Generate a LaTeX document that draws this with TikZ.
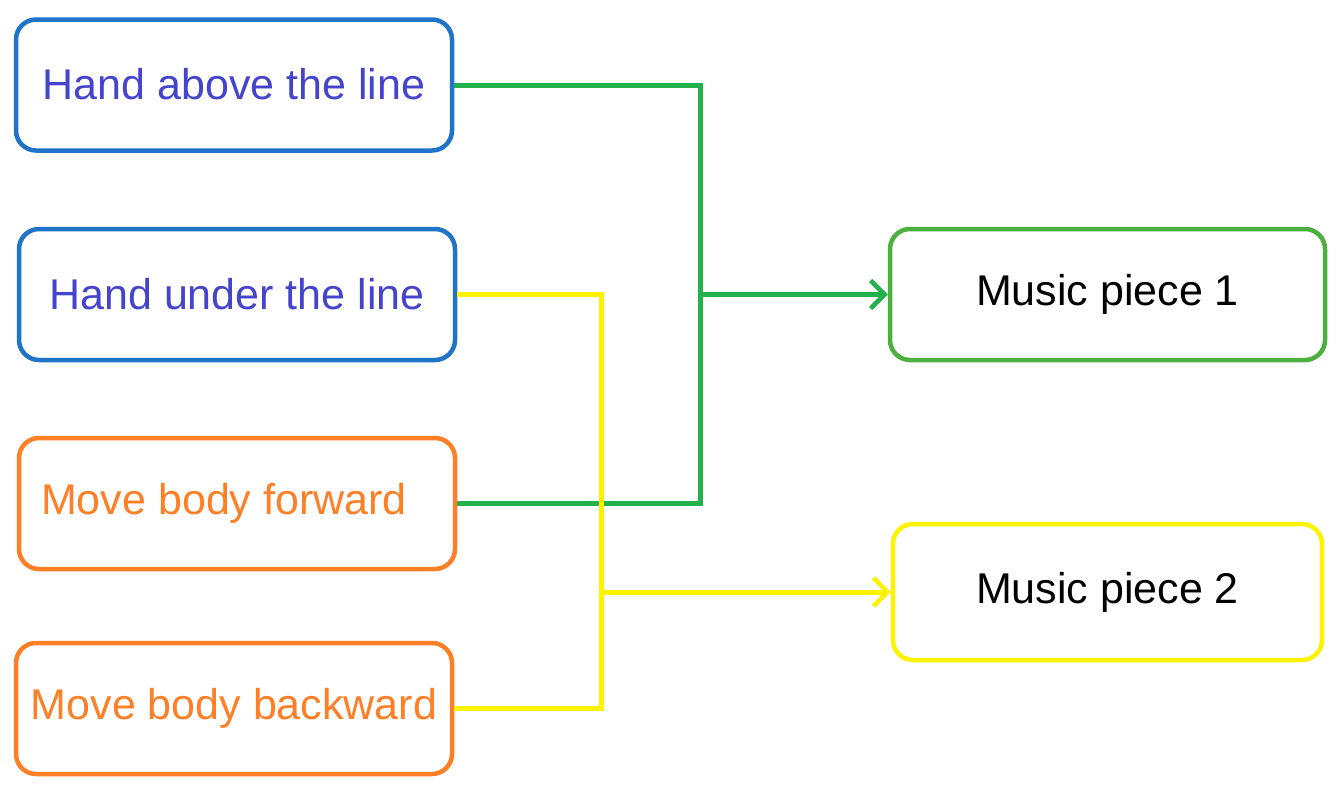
\documentclass[tikz,border=0pt]{standalone}
\usepackage{fontspec}
\setmainfont{Liberation Sans}
\usetikzlibrary{arrows.meta}
\definecolor{boxblue}{HTML}{1F73C8}
\definecolor{txtblue}{HTML}{4444CC}
\definecolor{orng}{HTML}{FF7F27}
\definecolor{grn}{HTML}{22B14C}
\definecolor{grnbox}{HTML}{4CB040}
\definecolor{yel}{HTML}{FFF200}
\tikzset{
  box/.style={draw, rounded corners=20pt, line width=4.5pt, minimum width=436pt, minimum height=131pt, inner sep=0pt, font=\fontsize{43}{50}\selectfont},
  bluebox/.style={box, draw=boxblue, text=txtblue},
  orangebox/.style={box, draw=orng, text=orng},
  conn/.style={line width=5pt},
  arr/.style={conn, -{Straight Barb[length=14pt,width=28pt,line width=4.5pt]}}
}
\begin{document}
\begin{tikzpicture}[x=1pt,y=-1pt]
\useasboundingbox (0,0) rectangle (1344,801);
\node[bluebox] (b1) at (234,85) {\raisebox{3pt}{Hand above the line}};
\node[bluebox] (b2) at (237,294.5) {Hand under the line};
\node[orangebox] (b3) at (237,503.5) {Move body forward\rule{26pt}{0pt}};
\node[orangebox] (b4) at (234,708.5) {\raisebox{2pt}{Move body backward}};
\node[box, draw=grnbox, minimum width=435pt] (m1) at (1107.5,294.5) {\raisebox{2pt}{Music piece 1}};
\node[box, draw=yel, minimum width=429pt, minimum height=136pt] (m2) at (1107.5,592) {\raisebox{2pt}{Music piece 2}};
\coordinate (gj) at (700,294.5);
\coordinate (yj) at (601,592);
\draw[conn, grn] (b1.east) -| (gj);
\draw[conn, grn] (b3.east) -| (gj);
\draw[arr, grn] (gj) -- (m1.west);
\draw[conn, yel] (b2.east) -| (yj);
\draw[conn, yel] (b4.east) -| (yj);
\draw[arr, yel] (yj) -- (m2.west);
\end{tikzpicture}
\end{document}
